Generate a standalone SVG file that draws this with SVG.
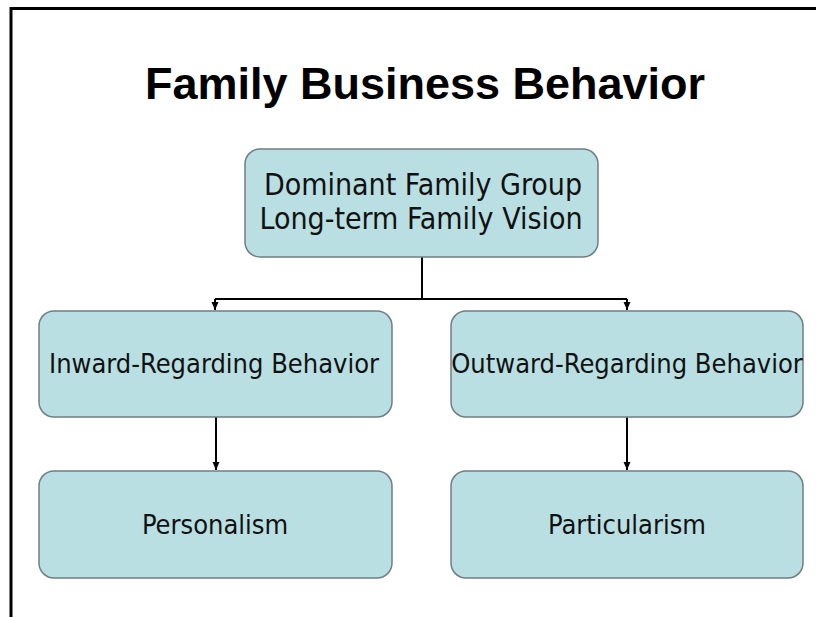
<svg xmlns="http://www.w3.org/2000/svg" width="816" height="617" viewBox="0 0 816 617">
<defs>
<style>
.box{fill:#b9dfe3;stroke:#6f7f82;stroke-width:1.5}
.lbl{font-family:"DejaVu Sans Condensed","DejaVu Sans",sans-serif;fill:#111;text-anchor:middle}
.con{stroke:#000;stroke-width:2;fill:none}
</style>
<marker id="ah" viewBox="0 0 8 8" refX="8" refY="4" markerWidth="8" markerHeight="8" markerUnits="userSpaceOnUse" orient="auto">
<path d="M0,0.5 L8,4 L0,7.5 Z" fill="#000"/>
</marker>
</defs>
<rect x="0" y="0" width="816" height="617" fill="#fff"/>
<path d="M11,617 V8.5 H816" fill="none" stroke="#000" stroke-width="3"/>
<text x="425" y="99" font-family="'Liberation Sans',Arial,sans-serif" font-size="45" font-weight="bold" text-anchor="middle" fill="#000">Family Business Behavior</text>
<g id="connectors">
<path class="con" d="M422,257 V299"/>
<path class="con" d="M215,299 H627"/>
<path class="con" d="M215,299 V310" marker-end="url(#ah)"/>
<path class="con" d="M627,299 V310" marker-end="url(#ah)"/>
<path class="con" d="M216,417 V470" marker-end="url(#ah)"/>
<path class="con" d="M627,417 V470" marker-end="url(#ah)"/>
</g>
<g id="node-top">
<rect class="box" x="245" y="149" width="353" height="108" rx="15"/>
<text class="lbl" x="423" y="195" font-size="30">Dominant Family Group</text>
<text class="lbl" x="421" y="229" font-size="30">Long-term Family Vision</text>
</g>
<g id="node-inward">
<rect class="box" x="39" y="311" width="353" height="106" rx="15"/>
<text class="lbl" x="214" y="373" font-size="27">Inward-Regarding Behavior</text>
</g>
<g id="node-outward">
<rect class="box" x="451" y="311" width="352" height="106" rx="15"/>
<text class="lbl" x="627" y="373" font-size="27">Outward-Regarding Behavior</text>
</g>
<g id="node-personalism">
<rect class="box" x="39" y="471" width="353" height="107" rx="15"/>
<text class="lbl" x="215" y="534" font-size="27">Personalism</text>
</g>
<g id="node-particularism">
<rect class="box" x="451" y="471" width="352" height="107" rx="15"/>
<text class="lbl" x="627" y="534" font-size="27">Particularism</text>
</g>
</svg>
